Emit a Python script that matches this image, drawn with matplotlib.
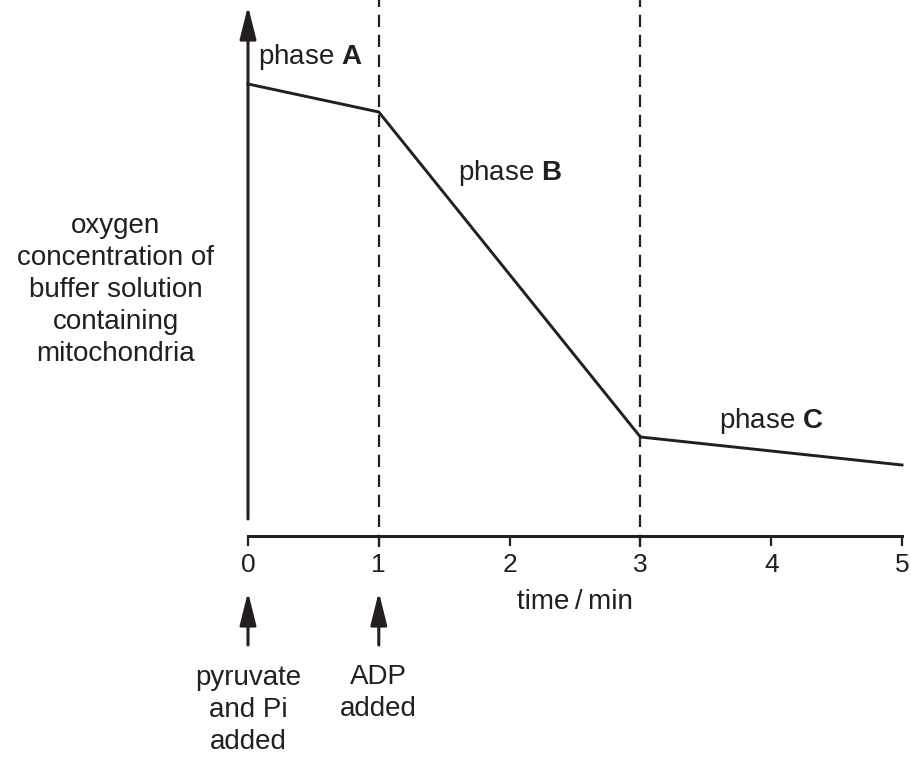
import matplotlib.pyplot as plt

plt.rcParams['font.family'] = ['Liberation Sans', 'DejaVu Sans']
plt.rcParams['mathtext.fontset'] = 'custom'
plt.rcParams['mathtext.rm'] = 'Liberation Sans'
plt.rcParams['mathtext.bf'] = 'Liberation Sans:bold'

ink = '#231f20'
fs = 20

# oxygen trace (arbitrary units) against time / min
time_min = [0, 1, 3, 5]
oxygen = [4.52, 4.24, 0.99, 0.71]

x_ticks = [0, 1, 2, 3, 4, 5]
events_x = [1, 3]  # dashed lines (ADP added, end of phase B)

phase_labels = ['phase $\\mathbf{A}$', 'phase $\\mathbf{B}$', 'phase $\\mathbf{C}$']
phase_x = [0.48, 2.0, 4.0]
phase_y = [4.79, 3.63, 1.15]

add_x = [0, 1]
add_labels = ['pyruvate\nand Pi\nadded', 'ADP\nadded']
add_y = [-1.74, -1.575]

ylabel = 'oxygen\nconcentration of\nbuffer solution\ncontaining\nmitochondria'

fig = plt.figure(figsize=(9.11, 7.6), dpi=100)
ax = fig.add_axes([248 / 911, 224 / 760, 654 / 911, 528 / 760])
ax.set_xlim(0, 5)
ax.set_ylim(0, 5.28)

for s in ['top', 'right', 'left']:
    ax.spines[s].set_visible(False)
ax.spines['bottom'].set_linewidth(2.2)
ax.spines['bottom'].set_color(ink)
ax.set_yticks([])
ax.set_xticks(x_ticks)
ax.tick_params(axis='x', direction='out', length=7.5, width=1.6, colors=ink,
               labelsize=19, pad=5)

# y axis with arrow head, starting a little above the x axis
arrow = dict(arrowstyle='-|>,head_length=2.0,head_width=0.5', mutation_scale=10,
             lw=2.2, color=ink, shrinkA=0, shrinkB=0)
ax.annotate('', xy=(0, 5.3), xytext=(0, 0.17), xycoords='data',
            arrowprops=arrow, annotation_clip=False)

# dashed event lines
for xe in events_x:
    ax.plot([xe, xe], [-0.11, 5.36], color=ink, lw=1.6, dashes=(5.5, 3.5),
            clip_on=False)

ax.plot(time_min, oxygen, color=ink, lw=2.1, solid_joinstyle='miter',
        clip_on=False)

for lab, px, py in zip(phase_labels, phase_x, phase_y):
    ax.text(px, py, lab, fontsize=fs, ha='center', va='center', color=ink)

ax.text(2.5, -0.66, 'time\u2009/\u2009min', fontsize=fs, ha='center',
        va='center', color=ink)

for xa, lab, ya in zip(add_x, add_labels, add_y):
    ax.annotate('', xy=(xa, -0.56), xytext=(xa, -1.09), arrowprops=arrow,
                annotation_clip=False)
    ax.text(xa, ya, lab, fontsize=fs, ha='center', va='center',
            multialignment='center', linespacing=1.3, color=ink)

ax.text(-1.01, 2.46, ylabel, fontsize=fs, ha='center', va='center',
        multialignment='center', linespacing=1.3, color=ink)

fig.savefig('out.png', dpi=100)
